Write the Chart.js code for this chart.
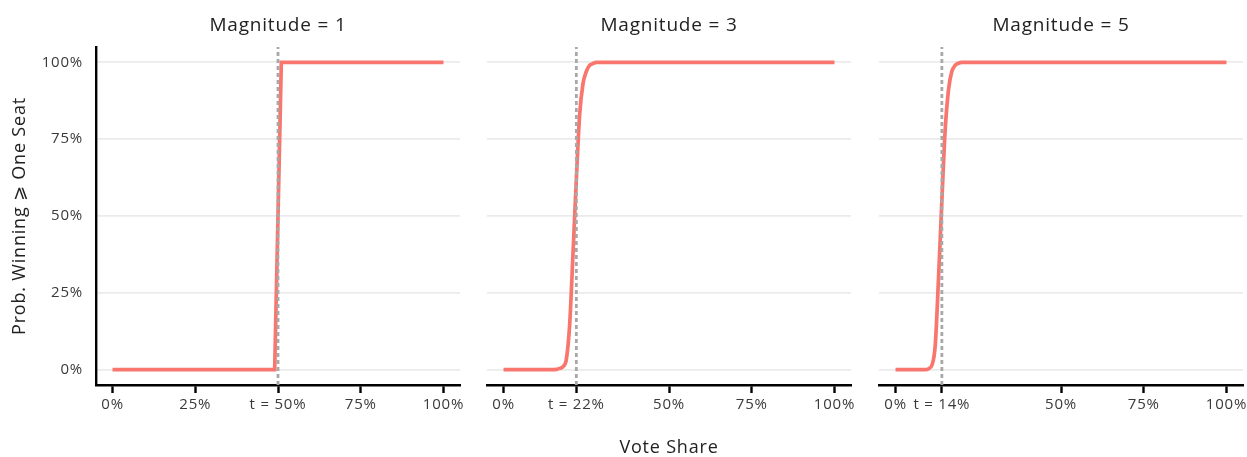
<!DOCTYPE html>
<html><head><meta charset="utf-8">
<script src="https://cdn.jsdelivr.net/npm/chart.js@4/dist/chart.umd.min.js"></script>
<style>
html,body{margin:0;padding:0;background:#fff;width:1247px;height:457px;overflow:hidden;position:relative}
canvas{position:absolute;top:0}
</style></head><body>
<canvas id="c1" width="470" height="457" style="left:0px"></canvas>
<canvas id="c2" width="384" height="457" style="left:477px"></canvas>
<canvas id="c3" width="390" height="457" style="left:869px"></canvas>
<script>
// ---- data ----
const panelTitles = ["Magnitude = 1", "Magnitude = 3", "Magnitude = 5"];
const thresholds = [50, 22, 14];

const vote1 = [0, 49, 50, 51, 100];
const prob1 = [0, 0, 50, 100, 100];

const vote2 = [0, 15, 16, 17, 18, 19, 20, 21, 22, 23, 24, 25, 26, 27, 28, 100];
const prob2 = [0, 0, 0.1, 0.4, 1, 3.5, 15, 38, 62, 83, 93, 97, 99, 99.6, 100, 100];

const vote3 = [0, 9, 10, 11, 12, 13, 14, 15, 16, 17, 18, 19, 20, 100];
const prob3 = [0, 0, 0.3, 1.5, 8, 30, 55, 78, 91, 97, 99, 99.7, 100, 100];

const xTicks1 = [0, 25, 50, 75, 100];
const xLabels1 = ["0%", "25%", "t = 50%", "75%", "100%"];
const xTicks2 = [0, 22, 50, 75, 100];
const xLabels2 = ["0%", "t = 22%", "50%", "75%", "100%"];
const xTicks3 = [0, 14, 50, 75, 100];
const xLabels3 = ["0%", "t = 14%", "50%", "75%", "100%"];

const yTicks = [0, 25, 50, 75, 100];
const yLabels = ["0%", "25%", "50%", "75%", "100%"];

const yTitle = "Prob. Winning \u2A7E One Seat";
const xTitle = "Vote Share";

// ---- styling ----
const FONT = "'Open Sans', 'DejaVu Sans', sans-serif";
const LINE = "#F8766D";
const TICKCOL = "#3a3a3a";
const TITLECOL = "#222222";

const spacing = {
  id: 'spacing',
  beforeDraw(chart) { chart.ctx.letterSpacing = '0.8px'; }
};

function makePanel(id, idx, vote, prob, xT, xL, opts) {
  const pts = vote.map((v, i) => ({x: v, y: prob[i]}));
  const t = thresholds[idx];
  return new Chart(document.getElementById(id), {
    type: 'line',
    data: {
      datasets: [
        {
          data: [{x: t, y: -5}, {x: t, y: 105}],
          borderColor: '#a8a8a8', borderWidth: 2.8, borderDash: [4, 3],
          pointRadius: 0, tension: 0, order: 0
        },
        {
          data: pts,
          borderColor: LINE, borderWidth: 3.7, pointRadius: 0,
          cubicInterpolationMode: opts.smooth ? 'monotone' : 'default',
          tension: 0, borderCapStyle: 'butt', borderJoinStyle: 'miter', order: 1
        }
      ]
    },
    options: {
      responsive: false, animation: false, devicePixelRatio: 1,
      layout: {padding: {left: opts.padL, right: opts.padR, top: 0, bottom: 0}},
      plugins: {
        legend: {display: false}, tooltip: {enabled: false},
        title: {
          display: true, text: panelTitles[idx], fullSize: false,
          color: TITLECOL, font: {family: FONT, size: 19, weight: 'normal', lineHeight: 1.2},
          padding: {top: 14.6, bottom: 9.6}
        }
      },
      scales: {
        x: {
          type: 'linear', min: -5, max: 105,
          afterBuildTicks: s => { s.ticks = xT.map(v => ({value: v})); },
          afterFit: s => { s.height = 72; },
          ticks: {
            autoSkip: false, maxRotation: 0, padding: 3,
            color: TICKCOL, font: {family: FONT, size: 15},
            callback: (v, i) => xL[i]
          },
          grid: {display: true, drawOnChartArea: false, drawTicks: true, tickLength: 8,
                 tickColor: '#000', tickWidth: 2.4},
          border: {display: true, color: '#000', width: 2.4},
          title: opts.xTitle ? {
            display: true, text: xTitle, color: TITLECOL,
            font: {family: FONT, size: 18, lineHeight: 1.0}, padding: {top: 0, bottom: 0}
          } : {display: false}
        },
        y: {
          type: 'linear', min: -5, max: 105,
          afterBuildTicks: s => { s.ticks = yTicks.map(v => ({value: v})); },
          afterFit: s => { s.width = opts.yWidth; },
          ticks: {
            display: opts.yLabels, padding: 13, color: TICKCOL,
            font: {family: FONT, size: 15},
            callback: (v, i) => yLabels[i]
          },
          grid: {display: true, drawTicks: false, color: '#ebebeb', lineWidth: 1.8},
          border: {display: opts.yBorder, color: '#000', width: 2.4},
          title: opts.yTitle ? {
            display: true, text: yTitle, color: TITLECOL,
            font: {family: FONT, size: 18, lineHeight: 1.2}, padding: {top: 9, bottom: 0}
          } : {display: false}
        }
      }
    },
    plugins: [spacing]
  });
}

makePanel('c1', 0, vote1, prob1, xTicks1, xLabels1,
  {smooth: false, padL: 0, padR: 10, yWidth: 96, yLabels: true, yBorder: true, yTitle: true, xTitle: false});
makePanel('c2', 1, vote2, prob2, xTicks2, xLabels2,
  {smooth: true, padL: 10, padR: 10, yWidth: 0, yLabels: false, yBorder: false, yTitle: false, xTitle: true});
makePanel('c3', 2, vote3, prob3, xTicks3, xLabels3,
  {smooth: true, padL: 10, padR: 16, yWidth: 0, yLabels: false, yBorder: false, yTitle: false, xTitle: false});
</script>
</body></html>
